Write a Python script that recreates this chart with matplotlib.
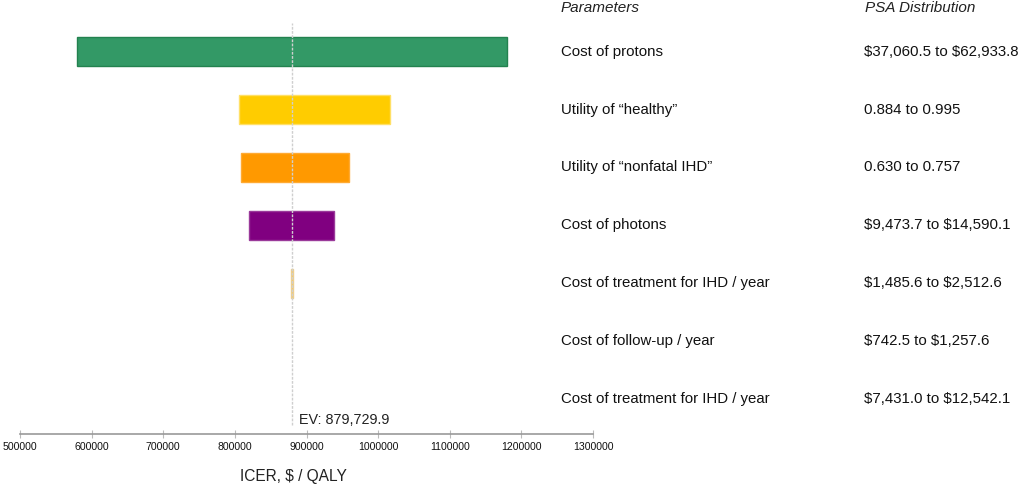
import matplotlib.pyplot as plt
from matplotlib.transforms import blended_transform_factory

plt.rcParams['font.family'] = ['Liberation Sans', 'DejaVu Sans']
plt.rcParams['text.parse_math'] = False

# tornado data
params = ["Cost of protons", "Utility of \u201chealthy\u201d", "Utility of \u201cnonfatal IHD\u201d",
          "Cost of photons", "Cost of treatment for IHD / year", "Cost of follow-up / year",
          "Cost of treatment for IHD / year"]
psa = ["$37,060.5 to $62,933.8", "0.884 to 0.995", "0.630 to 0.757",
       "$9,473.7 to $14,590.1", "$1,485.6 to $2,512.6", "$742.5 to $1,257.6",
       "$7,431.0 to $12,542.1"]
low = [579600, 805900, 809000, 819400, 878600, 879729.9, 879729.9]
high = [1179700, 1016800, 959900, 938500, 881000, 879729.9, 879729.9]
colors = ["#339966", "#ffcc00", "#ff9900", "#800080", "#e8c27a", "none", "none"]
edges = ["#23824f", "#ffe066", "#ffaa33", "#9a3a9a", "#f0d08a", "none", "none"]
ev = 879729.9
xticks = [500000, 600000, 700000, 800000, 900000, 1000000, 1100000, 1200000, 1300000]

W, H = 1021, 488
fig = plt.figure(figsize=(W / 100, H / 100), dpi=100)
ax = fig.add_axes([20 / W, 1 - 434 / H, (593 - 20) / W, 434 / H])

ypos = list(range(len(params)))
widths = [h - l for l, h in zip(low, high)]
ax.barh(ypos, widths, left=low, height=0.49, color=colors, edgecolor=edges, linewidth=1, zorder=2)

ax.axvline(ev, ymin=(434 - 425) / 434, ymax=(434 - 23) / 434, color="#cfcfcf",
           linestyle=(0, (2, 1)), linewidth=1, zorder=3)
ax.annotate("EV: " + f"{ev:,.1f}", xy=(ev, 0), xycoords=("data", "axes fraction"),
            xytext=(7, 14), textcoords="offset pixels", ha="left", va="center",
            fontsize=10.4, color="#222222")

ax.set_xlim(500000, 1300000)
ax.set_ylim(6.595, -0.888)
ax.set_xticks(xticks)
ax.set_xticklabels([str(t) for t in xticks])
ax.set_yticks([])
for s in ["left", "top", "right"]:
    ax.spines[s].set_visible(False)
ax.spines["bottom"].set_color("#999999")
ax.spines["bottom"].set_linewidth(1.2)
ax.tick_params(axis="x", direction="inout", length=6, color="#bbbbbb", labelsize=7.6,
               labelcolor="#111111", pad=3)

fig.text(293 / W, 1 - 477 / H, "ICER, $ / QALY", ha="center", va="center", fontsize=11.2, color="#222222")

# right side table
tr = blended_transform_factory(fig.transFigure, ax.transData)
fig.text(561 / W, 1 - 8 / H, "Parameters", style="italic", fontsize=11, va="center", color="#222222")
fig.text(865 / W, 1 - 8 / H, "PSA Distribution", style="italic", fontsize=11, va="center", color="#222222")
for i, (p, d) in enumerate(zip(params, psa)):
    ax.text(561 / W, i, p, transform=tr, fontsize=10.8, va="center", ha="left", color="#111111", clip_on=False)
    ax.text(864 / W, i, d, transform=tr, fontsize=10.8, va="center", ha="left", color="#111111", clip_on=False)

plt.savefig("out.png", dpi=100)
